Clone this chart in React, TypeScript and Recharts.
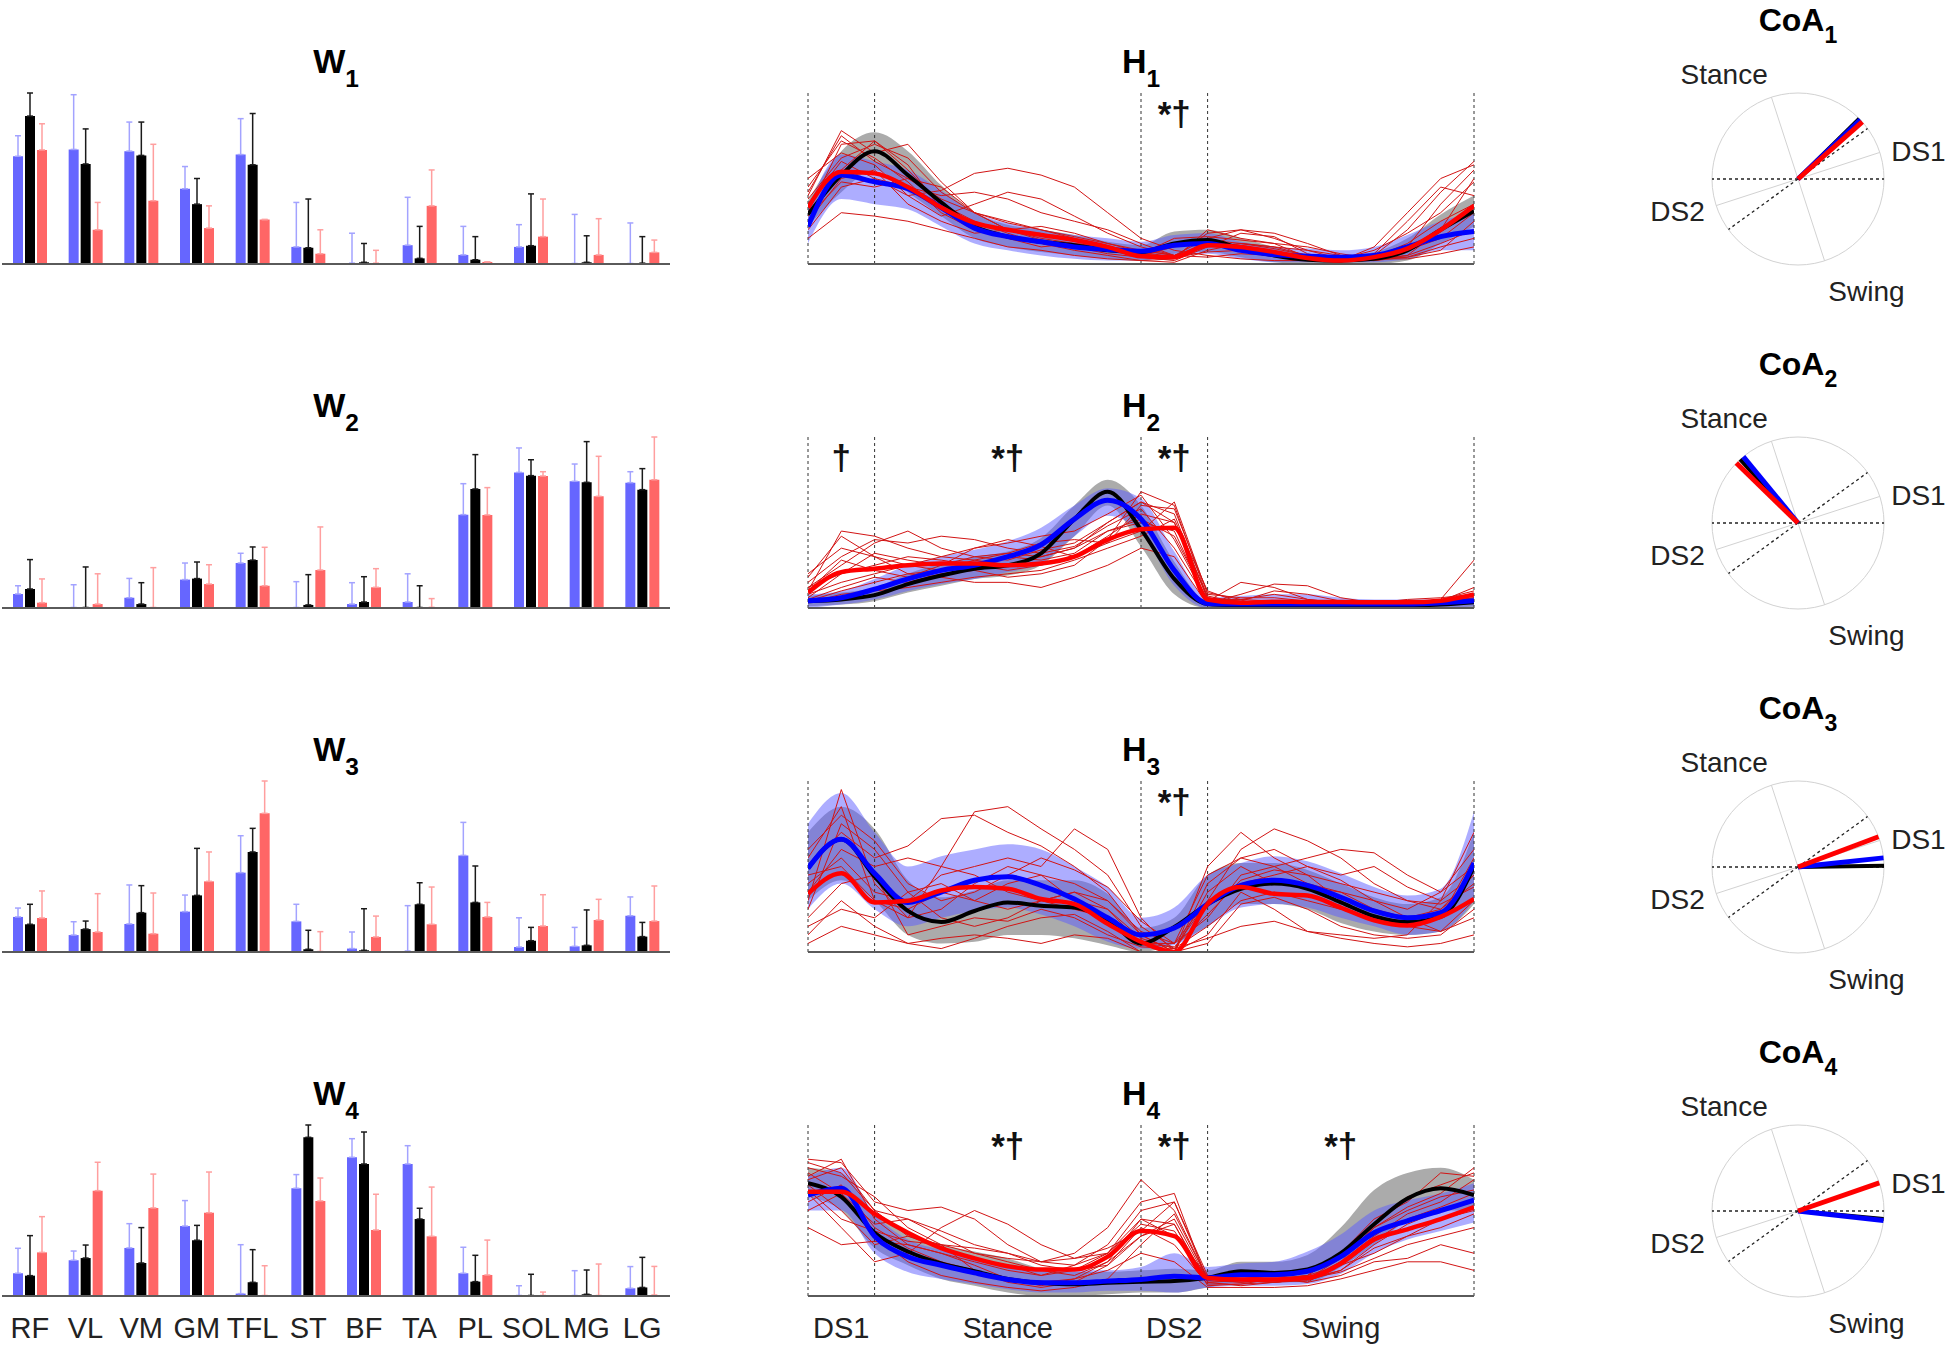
import React from 'react';
import {
  BarChart, Bar, ErrorBar, XAxis, YAxis, ComposedChart, Area, Line, LineChart,
  ReferenceLine, ReferenceDot, RadarChart, PolarGrid, PolarAngleAxis, PolarRadiusAxis, Radar,
} from 'recharts';

const FONT = '"Liberation Sans", Arial, Helvetica, sans-serif';

// ---------- muscle weights (W panels) ----------
const muscles = ['RF', 'VL', 'VM', 'GM', 'TFL', 'ST', 'BF', 'TA', 'PL', 'SOL', 'MG', 'LG'];

const w1Blue = [0.63, 0.67, 0.66, 0.44, 0.64, 0.1, 0.005, 0.11, 0.053, 0.1, 0.003, 0.003];
const w1BlueSd = [0.12, 0.32, 0.17, 0.13, 0.21, 0.26, 0.175, 0.28, 0.167, 0.13, 0.287, 0.237];
const w1Black = [0.865, 0.585, 0.635, 0.35, 0.58, 0.095, 0.01, 0.033, 0.025, 0.107, 0.01, 0.005];
const w1BlackSd = [0.135, 0.205, 0.195, 0.15, 0.3, 0.285, 0.11, 0.187, 0.135, 0.303, 0.155, 0.155];
const w1Red = [0.667, 0.2, 0.37, 0.21, 0.26, 0.06, 0.005, 0.34, 0.012, 0.16, 0.053, 0.068];
const w1RedSd = [0.153, 0.16, 0.33, 0.13, 0, 0.14, 0.075, 0.21, 0, 0.22, 0.212, 0.072];

const w2Blue = [0.082, 0.003, 0.06, 0.166, 0.263, 0.003, 0.023, 0.035, 0.546, 0.793, 0.741, 0.733];
const w2BlueSd = [0.048, 0.133, 0.113, 0.097, 0.057, 0.151, 0.125, 0.165, 0.181, 0.143, 0.101, 0.064];
const w2Black = [0.111, 0.003, 0.023, 0.172, 0.28, 0.018, 0.035, 0.003, 0.696, 0.774, 0.735, 0.692];
const w2BlackSd = [0.172, 0.237, 0.125, 0.097, 0.077, 0.177, 0.148, 0.127, 0.201, 0.093, 0.238, 0.123];
const w2Red = [0.031, 0.023, 0.003, 0.14, 0.13, 0.222, 0.121, 0.004, 0.544, 0.772, 0.653, 0.75];
const w2RedSd = [0.139, 0.177, 0.233, 0.113, 0.225, 0.252, 0.109, 0.051, 0.16, 0.025, 0.234, 0.25];

const w3Blue = [0.205, 0.099, 0.164, 0.236, 0.464, 0.179, 0.02, 0.006, 0.565, 0.029, 0.033, 0.212];
const w3BlueSd = [0.052, 0.078, 0.228, 0.097, 0.216, 0.1, 0.097, 0.265, 0.193, 0.171, 0.111, 0.11];
const w3Black = [0.162, 0.134, 0.23, 0.331, 0.585, 0.016, 0.01, 0.279, 0.29, 0.066, 0.039, 0.09];
const w3BlackSd = [0.117, 0.047, 0.158, 0.275, 0.138, 0.111, 0.243, 0.126, 0.213, 0.078, 0.207, 0.083];
const w3Red = [0.199, 0.117, 0.107, 0.413, 0.811, 0.003, 0.088, 0.162, 0.205, 0.152, 0.187, 0.181];
const w3RedSd = [0.158, 0.224, 0.238, 0.172, 0.189, 0.116, 0.122, 0.218, 0.085, 0.183, 0.121, 0.205];

const w4Blue = [0.133, 0.209, 0.281, 0.409, 0.014, 0.63, 0.811, 0.772, 0.133, 0.003, 0.003, 0.045];
const w4BlueSd = [0.146, 0.054, 0.142, 0.149, 0.286, 0.08, 0.109, 0.107, 0.152, 0.057, 0.145, 0.127];
const w4Black = [0.119, 0.222, 0.193, 0.326, 0.08, 0.928, 0.772, 0.45, 0.084, 0.003, 0.01, 0.05];
const w4BlackSd = [0.234, 0.076, 0.207, 0.087, 0.191, 0.072, 0.187, 0.063, 0.154, 0.124, 0.142, 0.176];
const w4Red = [0.255, 0.616, 0.515, 0.487, 0.003, 0.556, 0.386, 0.349, 0.123, 0.003, 0.003, 0.006];
const w4RedSd = [0.209, 0.166, 0.198, 0.238, 0.174, 0.134, 0.209, 0.288, 0.204, 0.02, 0.184, 0.167];

// ---------- activation profiles (H panels) ----------
const cyclePct = [0, 5, 10, 15, 20, 25, 30, 35, 40, 45, 50, 55, 60, 65, 70, 75, 80, 85, 90, 95, 100];
const phaseTicks = [5, 30, 55, 80];
const phaseNames = ['DS1', 'Stance', 'DS2', 'Swing'];
const phaseBounds = [0, 10, 50, 60, 100];

const h1Black = [0.29, 0.52, 0.66, 0.52, 0.36, 0.22, 0.16, 0.13, 0.11, 0.08, 0.07, 0.12, 0.14, 0.09, 0.05, 0.025, 0.02, 0.03, 0.08, 0.2, 0.31];
const h1Blue = [0.22, 0.52, 0.48, 0.44, 0.33, 0.21, 0.16, 0.13, 0.1, 0.085, 0.075, 0.11, 0.12, 0.08, 0.055, 0.045, 0.04, 0.05, 0.1, 0.16, 0.19];
const h1Red = [0.33, 0.54, 0.53, 0.45, 0.33, 0.24, 0.2, 0.17, 0.14, 0.1, 0.045, 0.04, 0.11, 0.1, 0.07, 0.035, 0.02, 0.04, 0.09, 0.2, 0.34];
const h1GreyLo = [0.22, 0.42, 0.55, 0.42, 0.28, 0.15, 0.1, 0.07, 0.05, 0.03, 0.02, 0.06, 0.07, 0.04, 0.01, 0, 0, 0, 0.02, 0.12, 0.22];
const h1GreyHi = [0.37, 0.66, 0.77, 0.66, 0.46, 0.3, 0.23, 0.2, 0.17, 0.13, 0.11, 0.19, 0.2, 0.15, 0.1, 0.06, 0.05, 0.07, 0.15, 0.29, 0.4];
const h1BlueLo = [0.12, 0.38, 0.35, 0.32, 0.22, 0.12, 0.08, 0.05, 0.03, 0.02, 0.02, 0.05, 0.06, 0.03, 0.01, 0.01, 0.01, 0.01, 0.03, 0.08, 0.08];
const h1BlueHi = [0.32, 0.64, 0.6, 0.55, 0.43, 0.3, 0.24, 0.2, 0.17, 0.15, 0.13, 0.17, 0.18, 0.13, 0.1, 0.09, 0.08, 0.1, 0.17, 0.25, 0.3];
const h1Trials = [
  [0.3, 0.7, 0.72, 0.55, 0.35, 0.25, 0.18, 0.12, 0.08, 0.05, 0.02, 0.03, 0.2, 0.15, 0.12, 0.04, 0.02, 0.03, 0.1, 0.35, 0.55],
  [0.4, 0.78, 0.65, 0.7, 0.48, 0.3, 0.2, 0.14, 0.1, 0.06, 0.04, 0.02, 0.1, 0.18, 0.16, 0.06, 0.02, 0.05, 0.2, 0.42, 0.6],
  [0.2, 0.45, 0.5, 0.4, 0.43, 0.53, 0.56, 0.52, 0.45, 0.3, 0.15, 0.08, 0.05, 0.03, 0.02, 0.02, 0.03, 0.05, 0.08, 0.15, 0.3],
  [0.35, 0.6, 0.5, 0.45, 0.4, 0.42, 0.38, 0.3, 0.25, 0.2, 0.12, 0.05, 0.15, 0.2, 0.18, 0.12, 0.05, 0.03, 0.05, 0.12, 0.2],
  [0.15, 0.3, 0.28, 0.25, 0.2, 0.15, 0.1, 0.08, 0.05, 0.03, 0.02, 0.01, 0.08, 0.12, 0.1, 0.08, 0.05, 0.03, 0.03, 0.06, 0.1],
  [0.45, 0.72, 0.62, 0.48, 0.3, 0.2, 0.15, 0.1, 0.12, 0.1, 0.08, 0.05, 0.12, 0.1, 0.06, 0.02, 0.01, 0.06, 0.25, 0.45, 0.4],
  [0.25, 0.5, 0.55, 0.35, 0.25, 0.18, 0.2, 0.22, 0.18, 0.12, 0.08, 0.05, 0.04, 0.06, 0.05, 0.03, 0.02, 0.02, 0.04, 0.1, 0.15],
  [0.38, 0.62, 0.7, 0.62, 0.42, 0.3, 0.24, 0.2, 0.15, 0.1, 0.05, 0.1, 0.14, 0.12, 0.1, 0.05, 0.03, 0.08, 0.18, 0.3, 0.48],
  [0.42, 0.75, 0.6, 0.5, 0.38, 0.3, 0.25, 0.2, 0.16, 0.12, 0.07, 0.04, 0.18, 0.2, 0.15, 0.08, 0.03, 0.02, 0.05, 0.2, 0.5],
  [0.3, 0.55, 0.72, 0.58, 0.32, 0.22, 0.15, 0.12, 0.1, 0.08, 0.06, 0.04, 0.07, 0.08, 0.05, 0.03, 0.02, 0.1, 0.3, 0.5, 0.58],
  [0.5, 0.65, 0.58, 0.4, 0.28, 0.35, 0.42, 0.38, 0.28, 0.18, 0.1, 0.05, 0.1, 0.12, 0.09, 0.05, 0.03, 0.04, 0.12, 0.25, 0.35],
  [0.28, 0.48, 0.45, 0.5, 0.45, 0.3, 0.2, 0.15, 0.12, 0.1, 0.06, 0.15, 0.16, 0.14, 0.12, 0.1, 0.06, 0.03, 0.04, 0.08, 0.25],
];

const h2Black = [0.04, 0.05, 0.075, 0.14, 0.19, 0.23, 0.25, 0.32, 0.52, 0.68, 0.46, 0.17, 0.023, 0.014, 0.01, 0.01, 0.01, 0.012, 0.015, 0.02, 0.033];
const h2Blue = [0.043, 0.06, 0.11, 0.17, 0.22, 0.25, 0.3, 0.37, 0.52, 0.63, 0.52, 0.22, 0.027, 0.023, 0.023, 0.023, 0.023, 0.023, 0.023, 0.03, 0.043];
const h2Red = [0.09, 0.21, 0.23, 0.25, 0.26, 0.26, 0.25, 0.26, 0.3, 0.4, 0.46, 0.47, 0.05, 0.03, 0.037, 0.035, 0.035, 0.033, 0.033, 0.043, 0.08];
const h2GreyLo = [0.01, 0.02, 0.04, 0.09, 0.13, 0.17, 0.19, 0.25, 0.42, 0.6, 0.36, 0.08, 0, 0, 0, 0, 0, 0, 0, 0, 0];
const h2GreyHi = [0.07, 0.09, 0.12, 0.2, 0.26, 0.3, 0.33, 0.41, 0.6, 0.75, 0.6, 0.27, 0.04, 0.03, 0.03, 0.03, 0.03, 0.03, 0.03, 0.04, 0.05];
const h2BlueLo = [0, 0.02, 0.05, 0.1, 0.14, 0.17, 0.21, 0.26, 0.42, 0.54, 0.44, 0.13, 0, 0, 0, 0, 0, 0, 0, 0, 0.01];
const h2BlueHi = [0.08, 0.1, 0.17, 0.25, 0.3, 0.34, 0.39, 0.47, 0.6, 0.7, 0.64, 0.33, 0.06, 0.07, 0.08, 0.08, 0.06, 0.05, 0.05, 0.05, 0.07];
const h2Trials = [
  [0.1, 0.45, 0.42, 0.35, 0.3, 0.28, 0.25, 0.3, 0.35, 0.5, 0.62, 0.55, 0.05, 0.05, 0.08, 0.05, 0.03, 0.03, 0.03, 0.05, 0.28],
  [0.15, 0.3, 0.4, 0.38, 0.42, 0.4, 0.35, 0.32, 0.36, 0.48, 0.58, 0.35, 0.04, 0.15, 0.12, 0.05, 0.03, 0.02, 0.02, 0.03, 0.06],
  [0.05, 0.12, 0.18, 0.15, 0.2, 0.22, 0.18, 0.2, 0.25, 0.4, 0.68, 0.6, 0.06, 0.04, 0.03, 0.02, 0.02, 0.02, 0.03, 0.03, 0.04],
  [0.2, 0.35, 0.3, 0.25, 0.22, 0.24, 0.3, 0.28, 0.32, 0.45, 0.5, 0.45, 0.03, 0.08, 0.14, 0.13, 0.06, 0.03, 0.02, 0.02, 0.03],
  [0.03, 0.08, 0.1, 0.12, 0.15, 0.18, 0.2, 0.22, 0.28, 0.35, 0.42, 0.52, 0.1, 0.03, 0.02, 0.02, 0.02, 0.02, 0.02, 0.02, 0.03],
  [0.12, 0.25, 0.38, 0.45, 0.35, 0.3, 0.32, 0.38, 0.4, 0.38, 0.45, 0.62, 0.08, 0.06, 0.06, 0.04, 0.03, 0.03, 0.05, 0.06, 0.08],
  [0.08, 0.15, 0.2, 0.25, 0.3, 0.35, 0.38, 0.42, 0.45, 0.55, 0.66, 0.4, 0.04, 0.02, 0.02, 0.02, 0.02, 0.02, 0.02, 0.03, 0.05],
  [0.18, 0.42, 0.3, 0.2, 0.18, 0.15, 0.15, 0.12, 0.18, 0.25, 0.35, 0.3, 0.02, 0.02, 0.02, 0.02, 0.02, 0.02, 0.03, 0.04, 0.12],
  [0.06, 0.2, 0.32, 0.28, 0.25, 0.35, 0.4, 0.36, 0.3, 0.42, 0.55, 0.5, 0.06, 0.03, 0.03, 0.03, 0.02, 0.02, 0.02, 0.03, 0.05],
  [0.12, 0.2, 0.25, 0.3, 0.28, 0.25, 0.22, 0.25, 0.3, 0.38, 0.6, 0.58, 0.09, 0.05, 0.04, 0.03, 0.03, 0.03, 0.04, 0.04, 0.06],
  [0.04, 0.1, 0.15, 0.2, 0.22, 0.28, 0.32, 0.3, 0.35, 0.45, 0.52, 0.42, 0.05, 0.04, 0.1, 0.08, 0.04, 0.03, 0.02, 0.03, 0.04],
  [0.1, 0.28, 0.22, 0.18, 0.25, 0.3, 0.28, 0.34, 0.38, 0.5, 0.62, 0.5, 0.07, 0.03, 0.02, 0.02, 0.02, 0.03, 0.03, 0.05, 0.1],
];

const h3Black = [0.49, 0.66, 0.44, 0.24, 0.175, 0.24, 0.29, 0.27, 0.26, 0.19, 0.05, 0.146, 0.28, 0.37, 0.4, 0.37, 0.29, 0.21, 0.175, 0.205, 0.5];
const h3Blue = [0.49, 0.66, 0.46, 0.29, 0.35, 0.42, 0.44, 0.39, 0.31, 0.2, 0.1, 0.14, 0.28, 0.39, 0.42, 0.39, 0.32, 0.24, 0.2, 0.23, 0.52];
const h3Red = [0.34, 0.46, 0.29, 0.3, 0.36, 0.38, 0.37, 0.31, 0.28, 0.165, 0.06, 0, 0.28, 0.38, 0.34, 0.33, 0.26, 0.185, 0.155, 0.205, 0.31];
const h3GreyLo = [0.3, 0.42, 0.3, 0.1, 0.05, 0.06, 0.1, 0.1, 0.08, 0.04, 0, 0.05, 0.15, 0.28, 0.28, 0.25, 0.17, 0.12, 0.1, 0.12, 0.28];
const h3GreyHi = [0.7, 0.85, 0.72, 0.42, 0.32, 0.36, 0.42, 0.42, 0.42, 0.34, 0.14, 0.2, 0.45, 0.52, 0.52, 0.48, 0.4, 0.32, 0.28, 0.32, 0.7];
const h3BlueLo = [0.25, 0.4, 0.25, 0.15, 0.2, 0.24, 0.26, 0.22, 0.15, 0.06, 0.02, 0.04, 0.15, 0.26, 0.28, 0.26, 0.2, 0.15, 0.1, 0.12, 0.3];
const h3BlueHi = [0.75, 0.93, 0.7, 0.5, 0.56, 0.6, 0.63, 0.6, 0.5, 0.38, 0.2, 0.26, 0.45, 0.52, 0.56, 0.53, 0.46, 0.38, 0.33, 0.37, 0.82];
const h3Trials = [
  [0.3, 0.95, 0.4, 0.2, 0.5, 0.82, 0.85, 0.72, 0.6, 0.45, 0.15, 0.02, 0.3, 0.6, 0.72, 0.65, 0.55, 0.4, 0.3, 0.25, 0.4],
  [0.5, 0.7, 0.55, 0.62, 0.78, 0.8, 0.7, 0.62, 0.5, 0.35, 0.1, 0, 0.5, 0.7, 0.55, 0.45, 0.3, 0.2, 0.15, 0.2, 0.55],
  [0.1, 0.3, 0.15, 0.05, 0.02, 0.08, 0.15, 0.2, 0.22, 0.12, 0, 0, 0.05, 0.28, 0.32, 0.25, 0.15, 0.1, 0.08, 0.1, 0.25],
  [0.4, 0.55, 0.35, 0.3, 0.45, 0.5, 0.55, 0.5, 0.72, 0.6, 0.2, 0, 0.4, 0.55, 0.5, 0.55, 0.6, 0.58, 0.45, 0.35, 0.5],
  [0.2, 0.4, 0.45, 0.1, 0.15, 0.2, 0.18, 0.25, 0.2, 0.1, 0.03, 0.02, 0.08, 0.15, 0.18, 0.12, 0.1, 0.08, 0.1, 0.3, 0.45],
  [0.55, 0.85, 0.3, 0.25, 0.35, 0.3, 0.4, 0.45, 0.3, 0.25, 0.05, 0.05, 0.3, 0.4, 0.45, 0.5, 0.42, 0.3, 0.2, 0.12, 0.2],
  [0.05, 0.15, 0.1, 0.05, 0.08, 0.1, 0.08, 0.05, 0.1, 0.08, 0, 0, 0.1, 0.35, 0.25, 0.12, 0.08, 0.05, 0.03, 0.05, 0.1],
  [0.35, 0.6, 0.5, 0.55, 0.5, 0.45, 0.35, 0.3, 0.35, 0.3, 0.12, 0.05, 0.45, 0.55, 0.6, 0.5, 0.45, 0.5, 0.38, 0.3, 0.7],
  [0.6, 0.8, 0.65, 0.4, 0.3, 0.35, 0.45, 0.55, 0.48, 0.38, 0.18, 0.05, 0.2, 0.45, 0.5, 0.4, 0.35, 0.3, 0.25, 0.35, 0.6],
  [0.15, 0.25, 0.2, 0.35, 0.4, 0.3, 0.25, 0.3, 0.35, 0.25, 0.08, 0.02, 0.15, 0.3, 0.35, 0.3, 0.25, 0.2, 0.15, 0.12, 0.3],
  [0.45, 0.5, 0.3, 0.2, 0.25, 0.4, 0.5, 0.45, 0.4, 0.3, 0.1, 0, 0.35, 0.5, 0.4, 0.38, 0.35, 0.25, 0.2, 0.25, 0.45],
  [0.25, 0.75, 0.6, 0.35, 0.2, 0.15, 0.2, 0.3, 0.25, 0.2, 0.05, 0.03, 0.22, 0.42, 0.48, 0.45, 0.4, 0.35, 0.3, 0.28, 0.38],
];

const h4Black = [0.66, 0.58, 0.37, 0.26, 0.19, 0.145, 0.1, 0.077, 0.068, 0.077, 0.083, 0.087, 0.106, 0.145, 0.135, 0.155, 0.25, 0.42, 0.57, 0.63, 0.59];
const h4Blue = [0.59, 0.63, 0.35, 0.23, 0.18, 0.135, 0.097, 0.077, 0.077, 0.087, 0.097, 0.116, 0.106, 0.125, 0.125, 0.145, 0.23, 0.37, 0.44, 0.5, 0.56];
const h4Red = [0.61, 0.61, 0.48, 0.37, 0.28, 0.22, 0.174, 0.155, 0.155, 0.23, 0.38, 0.35, 0.106, 0.097, 0.097, 0.106, 0.19, 0.33, 0.39, 0.45, 0.52];
const h4GreyLo = [0.58, 0.5, 0.28, 0.18, 0.1, 0.06, 0.02, 0, 0, 0.01, 0.02, 0.02, 0.05, 0.08, 0.08, 0.08, 0.17, 0.3, 0.44, 0.5, 0.5];
const h4GreyHi = [0.75, 0.72, 0.48, 0.37, 0.3, 0.26, 0.22, 0.16, 0.14, 0.14, 0.15, 0.16, 0.15, 0.2, 0.2, 0.24, 0.4, 0.62, 0.72, 0.75, 0.68];
const h4BlueLo = [0.5, 0.5, 0.25, 0.14, 0.1, 0.07, 0.04, 0.02, 0.02, 0.03, 0.03, 0.02, 0.05, 0.06, 0.06, 0.07, 0.13, 0.25, 0.33, 0.38, 0.43];
const h4BlueHi = [0.7, 0.75, 0.48, 0.33, 0.27, 0.22, 0.18, 0.15, 0.15, 0.15, 0.17, 0.25, 0.17, 0.19, 0.2, 0.26, 0.36, 0.5, 0.56, 0.6, 0.66];
const h4Trials = [
  [0.8, 0.78, 0.55, 0.5, 0.52, 0.45, 0.3, 0.2, 0.25, 0.4, 0.68, 0.5, 0.1, 0.1, 0.08, 0.1, 0.2, 0.4, 0.5, 0.58, 0.62],
  [0.7, 0.8, 0.45, 0.3, 0.25, 0.2, 0.15, 0.12, 0.18, 0.3, 0.55, 0.6, 0.08, 0.06, 0.08, 0.1, 0.15, 0.3, 0.42, 0.5, 0.55],
  [0.6, 0.4, 0.2, 0.25, 0.4, 0.5, 0.42, 0.3, 0.22, 0.25, 0.45, 0.35, 0.12, 0.1, 0.1, 0.12, 0.25, 0.45, 0.55, 0.72, 0.7],
  [0.5, 0.6, 0.35, 0.2, 0.12, 0.08, 0.05, 0.03, 0.05, 0.1, 0.3, 0.48, 0.1, 0.08, 0.09, 0.12, 0.18, 0.25, 0.35, 0.4, 0.48],
  [0.65, 0.5, 0.3, 0.35, 0.3, 0.15, 0.08, 0.05, 0.08, 0.18, 0.4, 0.3, 0.07, 0.07, 0.1, 0.08, 0.12, 0.2, 0.22, 0.3, 0.25],
  [0.72, 0.6, 0.42, 0.45, 0.35, 0.25, 0.22, 0.2, 0.22, 0.28, 0.38, 0.55, 0.12, 0.1, 0.12, 0.08, 0.2, 0.35, 0.48, 0.55, 0.68],
  [0.4, 0.3, 0.32, 0.3, 0.25, 0.18, 0.1, 0.06, 0.1, 0.15, 0.25, 0.2, 0.05, 0.05, 0.05, 0.06, 0.1, 0.15, 0.2, 0.2, 0.15],
  [0.75, 0.7, 0.58, 0.4, 0.3, 0.25, 0.2, 0.15, 0.12, 0.2, 0.45, 0.42, 0.08, 0.09, 0.1, 0.1, 0.22, 0.4, 0.52, 0.6, 0.75],
  [0.68, 0.75, 0.5, 0.35, 0.28, 0.22, 0.18, 0.12, 0.15, 0.25, 0.5, 0.55, 0.1, 0.09, 0.08, 0.1, 0.18, 0.32, 0.45, 0.52, 0.6],
  [0.55, 0.65, 0.4, 0.28, 0.2, 0.15, 0.1, 0.08, 0.1, 0.2, 0.35, 0.42, 0.06, 0.07, 0.08, 0.09, 0.15, 0.28, 0.35, 0.45, 0.5],
  [0.62, 0.45, 0.38, 0.32, 0.3, 0.28, 0.25, 0.2, 0.18, 0.25, 0.42, 0.38, 0.1, 0.1, 0.12, 0.1, 0.14, 0.22, 0.3, 0.35, 0.4],
  [0.78, 0.72, 0.5, 0.45, 0.38, 0.3, 0.25, 0.18, 0.15, 0.18, 0.35, 0.45, 0.09, 0.08, 0.1, 0.12, 0.25, 0.42, 0.58, 0.65, 0.72],
];

// significance marks (x = % of gait cycle)
const h1Marks = [{ x: 55, text: '*†' }];
const h2Marks = [{ x: 5, text: '†' }, { x: 30, text: '*†' }, { x: 55, text: '*†' }];
const h3Marks = [{ x: 55, text: '*†' }];
const h4Marks = [{ x: 30, text: '*†' }, { x: 55, text: '*†' }, { x: 80, text: '*†' }];

// ---------- centre of activity (CoA, degrees, counter-clockwise from DS1 onset) ----------
const coaBlack = [44.6, 132.3, 0.9, -5.4];
const coaBlue = [43.6, 129.5, 6.1, -6.3];
const coaRed = [41.6, 135.8, 20.6, 19.1];
const phaseBoundAngles = [0, 36, 180, 216];
const phaseLabelDy: Record<string, number> = { DS1: 12, Stance: -2, DS2: 12, Swing: 29 };

// ---------- colours ----------
const C = {
  blueBar: '#6666ff', blueErr: '#a3a3ff',
  blackBar: '#000000', blackErr: '#1a1a1a',
  redBar: '#ff6666', redErr: '#ff9f9f',
  blueLine: '#0000ff', redLine: '#ff0000', trial: '#d21414',
  greyBand: '#ababab', blueBand: 'rgba(92,92,255,0.5)',
  axis: '#5a5a5a', dash: '#333333', grid: '#d2d2d2',
};

const ROW_BASE = [264, 608, 952, 1296];
const PLOT_H = 171;

type WSet = { blue: number[]; blueSd: number[]; black: number[]; blackSd: number[]; red: number[]; redSd: number[] };
const wSets: WSet[] = [
  { blue: w1Blue, blueSd: w1BlueSd, black: w1Black, blackSd: w1BlackSd, red: w1Red, redSd: w1RedSd },
  { blue: w2Blue, blueSd: w2BlueSd, black: w2Black, blackSd: w2BlackSd, red: w2Red, redSd: w2RedSd },
  { blue: w3Blue, blueSd: w3BlueSd, black: w3Black, blackSd: w3BlackSd, red: w3Red, redSd: w3RedSd },
  { blue: w4Blue, blueSd: w4BlueSd, black: w4Black, blackSd: w4BlackSd, red: w4Red, redSd: w4RedSd },
];

type HSet = { black: number[]; blue: number[]; red: number[]; gLo: number[]; gHi: number[]; bLo: number[]; bHi: number[]; trials: number[][]; marks: { x: number; text: string }[] };
const hSets: HSet[] = [
  { black: h1Black, blue: h1Blue, red: h1Red, gLo: h1GreyLo, gHi: h1GreyHi, bLo: h1BlueLo, bHi: h1BlueHi, trials: h1Trials, marks: h1Marks },
  { black: h2Black, blue: h2Blue, red: h2Red, gLo: h2GreyLo, gHi: h2GreyHi, bLo: h2BlueLo, bHi: h2BlueHi, trials: h2Trials, marks: h2Marks },
  { black: h3Black, blue: h3Blue, red: h3Red, gLo: h3GreyLo, gHi: h3GreyHi, bLo: h3BlueLo, bHi: h3BlueHi, trials: h3Trials, marks: h3Marks },
  { black: h4Black, blue: h4Blue, red: h4Red, gLo: h4GreyLo, gHi: h4GreyHi, bLo: h4BlueLo, bHi: h4BlueHi, trials: h4Trials, marks: h4Marks },
];

function WPanel({ set, row }: { set: WSet; row: number }) {
  const data = muscles.map((m, i) => ({
    m,
    b: set.blue[i], bE: [0, set.blueSd[i]],
    k: set.black[i], kE: [0, set.blackSd[i]],
    r: set.red[i], rE: [0, set.redSd[i]],
  }));
  const last = row === 3;
  return (
    <div style={{ position: 'absolute', left: 0, top: ROW_BASE[row] - PLOT_H - 10 }}>
      <BarChart width={680} height={10 + PLOT_H + 50} data={data} barSize={10} barGap={2}
        margin={{ top: 10, right: 10, bottom: 0, left: 2 }}>
        <XAxis dataKey="m" height={50} interval={0} tickLine={false} tickSize={0} tickMargin={21}
          axisLine={{ stroke: C.axis, strokeWidth: 2 }}
          tick={last ? { fontSize: 29, fill: '#222', fontFamily: FONT } : false} />
        <YAxis hide domain={[0, 1]} allowDataOverflow />
        <Bar dataKey="b" fill={C.blueBar} isAnimationActive={false}>
          <ErrorBar dataKey="bE" width={3} stroke={C.blueErr} strokeWidth={1.5} direction="y" isAnimationActive={false} />
        </Bar>
        <Bar dataKey="k" fill={C.blackBar} isAnimationActive={false}>
          <ErrorBar dataKey="kE" width={3} stroke={C.blackErr} strokeWidth={1.5} direction="y" isAnimationActive={false} />
        </Bar>
        <Bar dataKey="r" fill={C.redBar} isAnimationActive={false}>
          <ErrorBar dataKey="rE" width={3} stroke={C.redErr} strokeWidth={1.5} direction="y" isAnimationActive={false} />
        </Bar>
      </BarChart>
    </div>
  );
}

function HPanel({ set, row }: { set: HSet; row: number }) {
  const data = cyclePct.map((x, i) => {
    const d: any = {
      x, black: set.black[i], blue: set.blue[i], red: set.red[i],
      grey: [set.gLo[i], set.gHi[i]], blueSd: [set.bLo[i], set.bHi[i]],
    };
    set.trials.forEach((t, j) => { d['t' + j] = t[i]; });
    return d;
  });
  const last = row === 3;
  return (
    <div style={{ position: 'absolute', left: 798, top: ROW_BASE[row] - PLOT_H - 10 }}>
      <ComposedChart width={686} height={10 + PLOT_H + 50} data={data}
        margin={{ top: 10, right: 10, bottom: 0, left: 10 }}>
        <XAxis dataKey="x" type="number" domain={[0, 100]} allowDataOverflow height={50}
          ticks={phaseTicks} interval={0} tickLine={false} tickSize={0} tickMargin={21}
          tickFormatter={(v: number) => phaseNames[phaseTicks.indexOf(v)]}
          axisLine={{ stroke: C.axis, strokeWidth: 2 }}
          tick={last ? { fontSize: 29, fill: '#222', fontFamily: FONT } : false} />
        <YAxis hide domain={[0, 1]} allowDataOverflow />
        {phaseBounds.map((b) => (
          <ReferenceLine key={'pb' + b} x={b} stroke={C.dash} strokeWidth={1} strokeDasharray="3 3" ifOverflow="visible" />
        ))}
        <Area type="monotone" dataKey="grey" stroke="none" fill={C.greyBand} fillOpacity={1} isAnimationActive={false} dot={false} activeDot={false} />
        <Area type="monotone" dataKey="blueSd" stroke="none" fill={C.blueBand} fillOpacity={1} isAnimationActive={false} dot={false} activeDot={false} />
        {set.trials.map((_, j) => (
          <Line key={'t' + j} type="linear" dataKey={'t' + j} stroke={C.trial} strokeWidth={1} dot={false} activeDot={false} isAnimationActive={false} />
        ))}
        <Line type="monotone" dataKey="black" stroke="#000" strokeWidth={4} dot={false} activeDot={false} isAnimationActive={false} />
        <Line type="monotone" dataKey="blue" stroke={C.blueLine} strokeWidth={5} dot={false} activeDot={false} isAnimationActive={false} />
        <Line type="monotone" dataKey="red" stroke={C.redLine} strokeWidth={4.5} dot={false} activeDot={false} isAnimationActive={false} />
        {set.marks.map((mk, j) => (
          <ReferenceDot key={'mk' + j} x={mk.x} y={0.87} r={0} ifOverflow="visible"
            shape={(p: any) => (
              <text x={p.cx} y={p.cy + 11} textAnchor="middle" fontSize={35} fontWeight="bold" fill="#111" fontFamily={FONT}>{mk.text}</text>
            )} />
        ))}
      </ComposedChart>
    </div>
  );
}

const phaseRows = phaseNames.map((phase) => ({ phase, v: 0 }));

function PhaseTick(props: any) {
  const { x, y, payload, textAnchor } = props;
  return (
    <text x={x} y={y} dy={phaseLabelDy[payload.value] ?? 10} textAnchor={textAnchor} fontSize={28} fill="#222" fontFamily={FONT}>
      {payload.value}
    </text>
  );
}

function ray(angleDeg: number) {
  const a = (angleDeg * Math.PI) / 180;
  return [{ x: 0, y: 0 }, { x: Math.cos(a), y: Math.sin(a) }];
}

function CoAPanel({ row }: { row: number }) {
  const cy = ROW_BASE[row] - PLOT_H / 2;
  const W = 306, Hh = 300, CX = 158, R = 86;
  const vectors = [
    { ang: coaBlack[row], color: '#000', w: 4 },
    { ang: coaBlue[row], color: C.blueLine, w: 5 },
    { ang: coaRed[row], color: C.redLine, w: 5 },
  ];
  return (
    <div style={{ position: 'absolute', left: 1640, top: cy - Hh / 2, width: W, height: Hh }}>
      <div style={{ position: 'absolute', left: 0, top: 0 }}>
        <RadarChart width={W} height={Hh} data={phaseRows} cx={CX} cy={Hh / 2} startAngle={108} endAngle={468} outerRadius={R}
          margin={{ top: 0, right: 0, bottom: 0, left: 0 }}>
          <PolarGrid gridType="circle" stroke={C.grid} strokeWidth={1} />
          <PolarRadiusAxis domain={[0, 1]} tickCount={6} tick={false} axisLine={false} />
          <PolarAngleAxis dataKey="phase" tickLine={false} axisLine={false} tickSize={12} tick={<PhaseTick />} />
          <Radar dataKey="v" stroke="none" fill="none" isAnimationActive={false} />
        </RadarChart>
      </div>
      <div style={{ position: 'absolute', left: 0, top: 0 }}>
        <LineChart width={W} height={Hh} margin={{ top: Hh / 2 - R, right: W - CX - R, bottom: Hh / 2 - R, left: CX - R }}>
          <XAxis type="number" dataKey="x" domain={[-1, 1]} allowDataOverflow hide />
          <YAxis type="number" domain={[-1, 1]} allowDataOverflow hide />
          {phaseBoundAngles.map((a, j) => (
            <Line key={'pa' + j} data={ray(a)} dataKey="y" type="linear" stroke="#222" strokeWidth={1.3}
              strokeDasharray="3 3" dot={false} activeDot={false} isAnimationActive={false} />
          ))}
          {vectors.map((v, j) => (
            <Line key={'v' + j} data={ray(v.ang)} dataKey="y" type="linear" stroke={v.color} strokeWidth={v.w}
              dot={false} activeDot={false} isAnimationActive={false} />
          ))}
        </LineChart>
      </div>
    </div>
  );
}

function Titles() {
  const items: any[] = [];
  for (let r = 0; r < 4; r++) {
    const base = ROW_BASE[r] - PLOT_H - 20;
    items.push({ x: 336, y: base, main: 'W', sub: String(r + 1), fs: 34 });
    items.push({ x: 1141, y: base, main: 'H', sub: String(r + 1), fs: 34 });
    items.push({ x: 1798, y: ROW_BASE[r] - PLOT_H / 2 - 148, main: 'CoA', sub: String(r + 1), fs: 32 });
  }
  return (
    <svg width={1946} height={1347} style={{ position: 'absolute', left: 0, top: 0, pointerEvents: 'none' }}>
      {items.map((t, i) => (
        <text key={i} x={t.x} y={t.y} textAnchor="middle" fontFamily={FONT} fontWeight="bold" fontSize={t.fs} fill="#000">
          {t.main}
          <tspan dy={t.fs * 0.4} fontSize={t.fs * 0.72}>{t.sub}</tspan>
        </text>
      ))}
    </svg>
  );
}

export default function App() {
  return (
    <div style={{ position: 'absolute', left: 0, top: 0, width: 1946, height: 1347, overflow: 'hidden', background: '#fff', fontFamily: FONT }}>
      {wSets.map((s, r) => <WPanel key={'w' + r} set={s} row={r} />)}
      {hSets.map((s, r) => <HPanel key={'h' + r} set={s} row={r} />)}
      {[0, 1, 2, 3].map((r) => <CoAPanel key={'c' + r} row={r} />)}
      <Titles />
    </div>
  );
}
